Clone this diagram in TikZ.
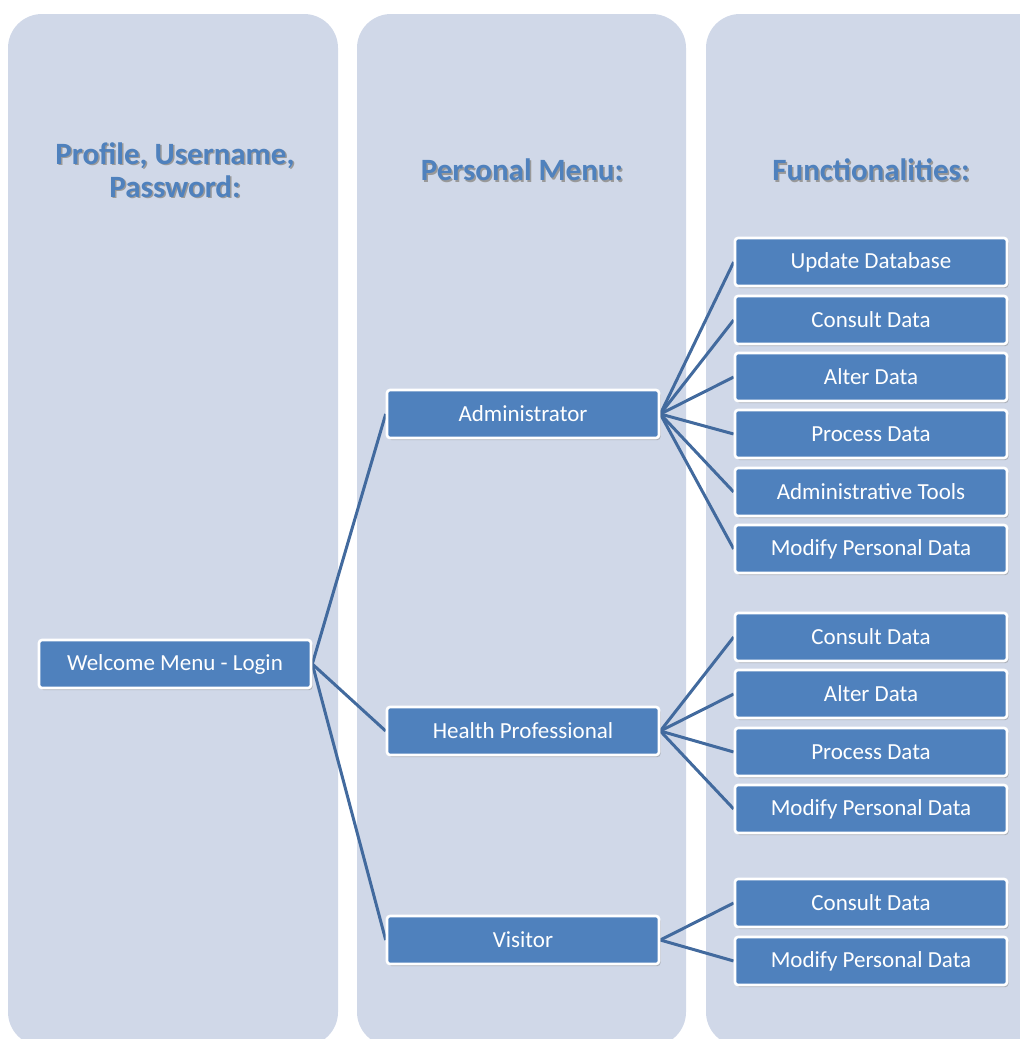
\documentclass[tikz,border=0pt]{standalone}
\usepackage{fontspec}
\setmainfont{Carlito}
\usetikzlibrary{positioning, shadows, backgrounds}

\definecolor{colbg}{RGB}{208,216,232}
\definecolor{boxblue}{RGB}{79,129,189}
\definecolor{linkblue}{RGB}{66,106,158}

\pgfdeclarelayer{columns}
\pgfsetlayers{columns,background,main}

\begin{document}
\begin{tikzpicture}[
        x=1pt, y=-1pt,
        column/.style={
            fill=colbg,
            rounded corners=34pt
        },
        item/.style={
            draw=white,
            fill=boxblue,
            line width=2.6pt,
            rounded corners=3pt,
            minimum width=272pt,
            minimum height=48pt,
            text=white,
            font=\fontsize{23}{26}\selectfont,
            drop shadow={shadow xshift=1.5pt, shadow yshift=-2pt, opacity=0.45}
        },
        heading/.style={
            text=boxblue,
            align=center,
            font=\bfseries\fontsize{31}{33}\selectfont
        },
        headshadow/.style={
            heading,
            text=black!40
        },
        link/.style={
            draw=linkblue,
            line width=3pt
        }
    ]
    \useasboundingbox (0,0) rectangle (1020,1039);
    \clip (0,0) rectangle (1020,1039);

    % Hintergrund-Spalten
    \begin{pgfonlayer}{columns}
        \fill [column] (8,14) rectangle (338,1046);
        \fill [column] (357,14) rectangle (686,1046);
        \fill [column] (706,14) rectangle (1055,1046);
    \end{pgfonlayer}

    % Ueberschriften
    \foreach \pos/\txt in {175/{Profile, Username,\\Password:}, 522/{Personal Menu:}, 871/{Functionalities:}} {
        \node [headshadow] at (\pos+1.5,171.5) {\txt};
        \node [heading] at (\pos,170) {\txt};
    }

    % Linke Spalte
    \node [item] (login) at (175,664) {Welcome Menu - Login};

    % Mittlere Spalte
    \node [item] (admin) at (523,414) {Administrator};
    \node [item] (health) at (523,731) {Health Professional};
    \node [item] (visitor) at (523,940) {Visitor};

    % Rechte Spalte
    \node [item] (a1) at (871,262) {Update Database};
    \node [item] (a2) at (871,320) {Consult Data};
    \node [item] (a3) at (871,377) {Alter Data};
    \node [item] (a4) at (871,434) {Process Data};
    \node [item] (a5) at (871,492) {Administrative Tools};
    \node [item] (a6) at (871,549) {Modify Personal Data};

    \node [item] (h1) at (871,637) {Consult Data};
    \node [item] (h2) at (871,694) {Alter Data};
    \node [item] (h3) at (871,752) {Process Data};
    \node [item] (h4) at (871,809) {Modify Personal Data};

    \node [item] (v1) at (871,903) {Consult Data};
    \node [item] (v2) at (871,961) {Modify Personal Data};

    % Verbindungen
    \begin{scope}[on background layer]
        \foreach \dst in {admin, health, visitor}
            \draw [link] (login.east) -- (\dst.west);
        \foreach \dst in {a1, a2, a3, a4, a5, a6}
            \draw [link] (admin.east) -- (\dst.west);
        \foreach \dst in {h1, h2, h3, h4}
            \draw [link] (health.east) -- (\dst.west);
        \foreach \dst in {v1, v2}
            \draw [link] (visitor.east) -- (\dst.west);
    \end{scope}
\end{tikzpicture}
\end{document}
